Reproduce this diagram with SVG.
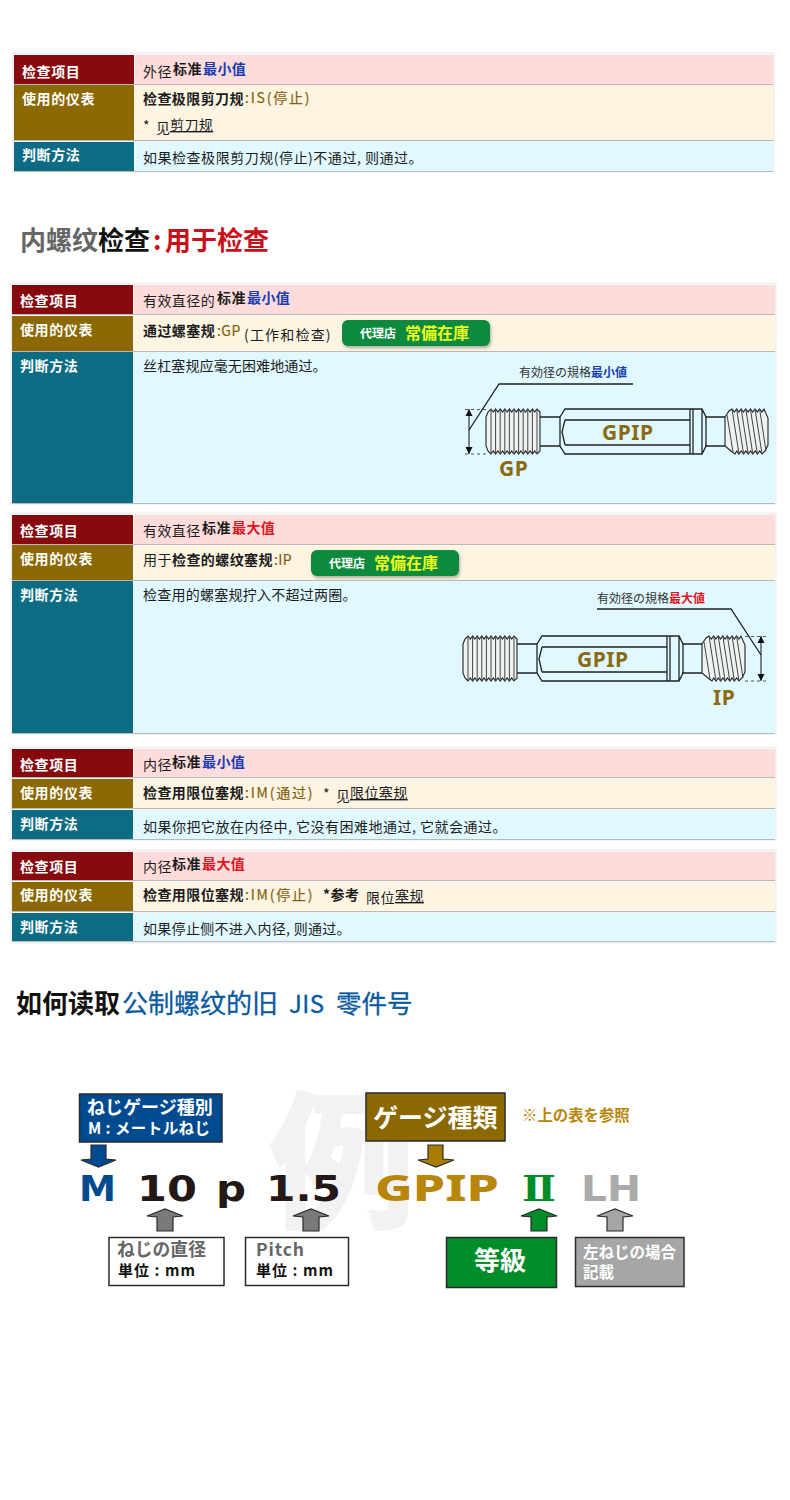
<svg xmlns="http://www.w3.org/2000/svg" xmlns:xlink="http://www.w3.org/1999/xlink" width="790" height="1500" viewBox="0 0 790 1500">
<style>
text{font-family:"Noto Sans CJK SC","Noto Sans",sans-serif;font-size:14px;fill:#1c1c1c;letter-spacing:.42px}
.jp,.jp text{font-family:"Noto Sans CJK JP","Noto Sans",sans-serif;letter-spacing:0}
.b{font-weight:700}
.h{font-weight:700;fill:#fff;letter-spacing:.6px}
.br{fill:#7f6010;stroke:#8b6a14;stroke-width:.2}
.bl{fill:#1a3cb0;font-weight:700}
.rd{fill:#e0161e;font-weight:700}
.u{text-decoration:underline}
.red{fill:#860a0e}.bro{fill:#8b6800}.tea{fill:#0b6c84}
.pk{fill:#ffdcdc}.cr{fill:#fdf5e2}.cy{fill:#e0f8ff}
.frame{fill:#f6f6f6;stroke:#ececec}
.sep{stroke:#b9b9b9;stroke-width:1;fill:none}
.thr{fill:#eef2f3;stroke:#222;stroke-width:1.1}
.thl{stroke:#444;stroke-width:1;fill:none}
.ln{fill:none;stroke:#222;stroke-width:1.3}
.g{font-family:"Noto Sans","DejaVu Sans",sans-serif;font-weight:700;font-size:21px;fill:#8b6a14;letter-spacing:.5px}
.big{font-family:"DejaVu Sans",sans-serif;font-weight:700;font-size:36px;letter-spacing:0}
.big2{font-family:"Noto Sans",sans-serif;font-weight:800;font-size:36px;letter-spacing:0}
.bx{stroke:#2a2a2a;stroke-width:1.5}
.ar{stroke:#2a2a2a;stroke-width:1.2;stroke-linejoin:miter}
.badge{fill:#078a3e}
</style>
<defs>
<filter id="sh" x="-5%" y="-10%" width="110%" height="130%"><feDropShadow dx="1" dy="2" stdDeviation="1.5" flood-color="#000" flood-opacity=".3"/></filter>
<g id="gauge">
<path class="thr" d="M486 417L488 412 491 409 493.3 412 495.6 409 497.9 412 500.2 409 502.5 412 504.8 409 507.1 412 509.4 409 511.7 412 514 409 516.3 412 518.6 409 520.9 412 523.2 409 525.5 412 527.8 409 530.1 412 532.4 409 534.7 412 537 409 540 412V451L537 454 534.7 451 532.4 454 530.1 451 527.8 454 525.5 451 523.2 454 520.9 451 518.6 454 516.3 451 514 454 511.7 451 509.4 454 507.1 451 504.8 454 502.5 451 500.2 454 497.9 451 495.6 454 493.3 451 491 454 488 451 486 446Z"/>
<path class="thl" d="M491 409V454M495.6 409V454M500.2 409V454M504.8 409V454M509.4 409V454M514 409V454M518.6 409V454M523.2 409V454M527.8 409V454M532.4 409V454M537 409V454"/>
<path class="ln" d="M540 417H560M540 446H560M705 417H725M705 446H725"/>
<path class="ln" d="M560 417L565 409H690V454H565L560 446ZM565 420H690M565 445H690M565 420L562 432 565 445M690 409H702L706 417V446L702 454H690M693 409V454M702 409V454"/>
<path class="thr" d="M725 417L729 411 732 409 734.3 412 736.6 409 738.9 412 741.2 409 743.5 412 745.8 409 748.1 412 750.4 409 752.7 412 755 409 757.3 412 759.6 409 761.9 412 764 409 768 418V445L765 451 762 454 759.7 451 757.4 454 755.1 451 752.8 454 750.5 451 748.2 454 745.9 451 743.6 454 741.3 451 739 454 736.7 451 735 454 731 451 725 446Z"/>
<path class="thl" d="M732 409L739 454M736.6 409L743.6 454M741.2 409L748.2 454M745.8 409L752.8 454M750.4 409L757.4 454M755 409L762 454M759.6 409L766 451M727 415L733 452"/>
</g>
</defs>
<rect width="790" height="1500" fill="#fff"/>

<g id="table-1">
<rect class="frame" x="13" y="53" width="761" height="119"/>
<rect class="red" x="14" y="55" width="120" height="29"/><rect class="pk" x="135" y="55" width="638" height="29"/>
<rect class="bro" x="14" y="85" width="120" height="55"/><rect class="cr" x="135" y="85" width="638" height="55"/>
<rect class="tea" x="14" y="142" width="120" height="29"/><rect class="cy" x="135" y="142" width="638" height="29"/>
<path class="sep" d="M14 84.500H773M14 140.500H773M14 171.500H773"/>
<text class="h" x="22" y="77">检查项目</text><text class="h" x="22" y="104">使用的仪表</text><text class="h" x="22" y="160">判断方法</text>
<text x="143" y="77">外径</text><text class="b" x="173" y="74">标准</text><text class="bl" x="203" y="74">最小值</text>
<text class="b" x="143" y="104">检查极限剪刀规</text><text class="br" x="245" y="103" textLength="65">:IS(停止)</text>
<text x="143" y="131">*</text><text x="156" y="133">见</text><text class="u" x="170" y="130">剪刀规</text>
<text x="143" y="163" textLength="280">如果检查极限剪刀规(停止)不通过, 则通过。</text>
</g>

<g id="heading-internal">
<text x="20" y="250" style="font-size:26px;letter-spacing:0;font-weight:700;fill:#666">内螺纹<tspan style="fill:#111">检查</tspan></text>
<text x="153" y="250" style="font-size:26px;letter-spacing:0;font-weight:700;fill:#c8101a">:</text>
<text x="165" y="250" style="font-size:26px;letter-spacing:0;font-weight:700;fill:#c8101a">用于检查</text>
</g>

<g id="table-2">
<rect class="frame" x="11" y="283" width="765" height="221"/>
<rect class="red" x="12" y="285" width="121" height="29"/><rect class="pk" x="134" y="285" width="641" height="29"/>
<rect class="bro" x="12" y="316" width="121" height="35"/><rect class="cr" x="134" y="316" width="641" height="35"/>
<rect class="tea" x="12" y="352" width="121" height="151"/><rect class="cy" x="134" y="352" width="641" height="151"/>
<path class="sep" d="M12 314.500H775M12 351.500H775M12 503.500H775"/>
<text class="h" x="20" y="306">检查项目</text><text class="h" x="20" y="335">使用的仪表</text><text class="h" x="20" y="371">判断方法</text>
<text x="143" y="306">有效直径的</text><text class="b" x="217" y="303">标准</text><text class="bl" x="247" y="303">最小值</text>
<text class="b" x="143" y="336">通过螺塞规</text><text class="br" x="217" y="336">:GP</text><text x="244" y="340" textLength="87">(工作和检查)</text>
<text x="143" y="371" textLength="184">丝杠塞规应毫无困难地通过。</text>
</g>
<g id="badge-1" class="jp">
<rect class="badge" x="342" y="320" width="148" height="26" rx="6" filter="url(#sh)"/>
<text class="b" x="360" y="338" style="fill:#fff;font-size:12px">代理店</text>
<text class="b" x="405" y="339" style="fill:#eaff1a;font-size:16px">常備在庫</text>
</g>
<g id="gauge-gp">
<use href="#gauge" xlink:href="#gauge"/>
<text class="jp" x="519" y="377" style="font-size:12px;fill:#333">有効径の規格<tspan class="bl">最小値</tspan></text>
<path class="ln" d="M633 384H499L469 430"/>
<path d="M465 409.500H486M465 454H486" stroke="#555" stroke-dasharray="3 3" fill="none"/>
<path d="M469 409V454" stroke="#111" fill="none"/>
<path d="M469 409L465.500 416H472.500ZM469 454L465.500 447H472.500Z" fill="#111"/>
<text class="g" x="602" y="440">GPIP</text>
<text class="g" x="499" y="476">GP</text>
</g>

<g id="table-3">
<rect class="frame" x="11" y="513" width="765" height="221"/>
<rect class="red" x="12" y="515" width="121" height="29"/><rect class="pk" x="134" y="515" width="641" height="29"/>
<rect class="bro" x="12" y="545" width="121" height="35"/><rect class="cr" x="134" y="545" width="641" height="35"/>
<rect class="tea" x="12" y="581" width="121" height="152"/><rect class="cy" x="134" y="581" width="641" height="152"/>
<path class="sep" d="M12 544.500H775M12 580.500H775M12 733.500H775"/>
<text class="h" x="20" y="536">检查项目</text><text class="h" x="20" y="564">使用的仪表</text><text class="h" x="20" y="600">判断方法</text>
<text x="143" y="536">有效直径</text><text class="b" x="202" y="533">标准</text><text class="rd" x="232" y="533">最大值</text>
<text x="143" y="565">用于</text><text class="b" x="172" y="565">检查的螺纹塞规</text><text class="br" x="274" y="565">:IP</text>
<text x="143" y="600" textLength="214">检查用的螺塞规拧入不超过两圈。</text>
</g>
<g id="badge-2" class="jp">
<rect class="badge" x="311" y="550" width="148" height="26" rx="6" filter="url(#sh)"/>
<text class="b" x="329" y="568" style="fill:#fff;font-size:12px">代理店</text>
<text class="b" x="374" y="569" style="fill:#eaff1a;font-size:16px">常備在庫</text>
</g>
<g id="gauge-ip">
<use href="#gauge" xlink:href="#gauge" transform="translate(-23 227)"/>
<text class="jp" x="597" y="603" style="font-size:12px;fill:#333">有効径の規格<tspan class="rd">最大値</tspan></text>
<path class="ln" d="M597 609H731L761 655"/>
<path d="M745 636.500H768M745 681H768" stroke="#555" stroke-dasharray="3 3" fill="none"/>
<path d="M761 636V681" stroke="#111" fill="none"/>
<path d="M761 636L757.500 643H764.500ZM761 681L757.500 674H764.500Z" fill="#111"/>
<text class="g" x="577" y="667">GPIP</text>
<text class="g" x="713" y="705">IP</text>
</g>

<g id="table-4">
<rect class="frame" x="11" y="747" width="765" height="93"/>
<rect class="red" x="12" y="749" width="121" height="28"/><rect class="pk" x="134" y="749" width="641" height="28"/>
<rect class="bro" x="12" y="779" width="121" height="29"/><rect class="cr" x="134" y="779" width="641" height="29"/>
<rect class="tea" x="12" y="810" width="121" height="29"/><rect class="cy" x="134" y="810" width="641" height="29"/>
<path class="sep" d="M12 777.500H775M12 808.500H775M12 839.500H775"/>
<text class="h" x="20" y="770">检查项目</text><text class="h" x="20" y="798">使用的仪表</text><text class="h" x="20" y="829">判断方法</text>
<text x="143" y="770">内径</text><text class="b" x="172" y="767">标准</text><text class="bl" x="202" y="767">最小值</text>
<text class="b" x="143" y="798">检查用限位塞规</text><text class="br" x="245" y="798" textLength="68">:IM(通过)</text>
<text x="323" y="799">*</text><text x="336" y="801">见</text><text class="u" x="350" y="798">限位塞规</text>
<text x="143" y="832" textLength="364">如果你把它放在内径中, 它没有困难地通过, 它就会通过。</text>
</g>

<g id="table-5">
<rect class="frame" x="11" y="850" width="765" height="93"/>
<rect class="red" x="12" y="852" width="121" height="28"/><rect class="pk" x="134" y="852" width="641" height="28"/>
<rect class="bro" x="12" y="882" width="121" height="29"/><rect class="cr" x="134" y="882" width="641" height="29"/>
<rect class="tea" x="12" y="913" width="121" height="28"/><rect class="cy" x="134" y="913" width="641" height="28"/>
<path class="sep" d="M12 880.500H775M12 911.500H775M12 941.500H775"/>
<text class="h" x="20" y="872">检查项目</text><text class="h" x="20" y="900">使用的仪表</text><text class="h" x="20" y="932">判断方法</text>
<text x="143" y="872">内径</text><text class="b" x="172" y="869">标准</text><text class="rd" x="202" y="869">最大值</text>
<text class="b" x="143" y="900">检查用限位塞规</text><text class="br" x="245" y="900" textLength="68">:IM(停止)</text>
<text class="b" x="323" y="900">*参考</text><text x="366" y="903">限位</text><text class="u" x="395" y="901">塞规</text>
<text x="143" y="934" textLength="208">如果停止侧不进入内径, 则通过。</text>
</g>

<g id="heading-jis">
<text x="16" y="1013" style="font-size:26px;letter-spacing:0;font-weight:700;fill:#111">如何读取</text>
<text x="122" y="1013" style="font-size:26px;letter-spacing:0;fill:#0a5aa0;stroke:#0a5aa0;stroke-width:.3">公制螺纹的旧</text>
<text x="289" y="1013" style="font-size:24px;letter-spacing:.5px;fill:#0a5aa0;stroke:#0a5aa0;stroke-width:.3">JIS</text>
<text x="336" y="1013" style="font-size:25.500px;letter-spacing:0;fill:#0a5aa0;stroke:#0a5aa0;stroke-width:.3">零件号</text>
</g>

<g id="watermark"><text class="jp" x="268" y="1216" style="font-size:148px;font-weight:900;fill:#f2f2f2">例</text></g>

<g id="part-number">
<text class="big" x="79" y="1201" textLength="37" lengthAdjust="spacingAndGlyphs" style="fill:#004a8f">M</text>
<text class="big" x="137" y="1201" textLength="60" lengthAdjust="spacingAndGlyphs" style="fill:#231815">10</text>
<text class="big" x="216" y="1201" textLength="30" lengthAdjust="spacingAndGlyphs" style="fill:#231815">p</text>
<text class="big" x="266" y="1201" textLength="75" lengthAdjust="spacingAndGlyphs" style="fill:#231815">1.5</text>
<text class="big2" x="375" y="1201" textLength="124" lengthAdjust="spacingAndGlyphs" style="fill:#b8860b">GPIP</text>
<text class="big" x="522" y="1201" textLength="34" lengthAdjust="spacingAndGlyphs" style="fill:#008c28;font-family:'DejaVu Serif',serif">Ⅱ</text>
<text class="big" x="581" y="1201" textLength="60" lengthAdjust="spacingAndGlyphs" style="fill:#aaa">LH</text>
</g>

<g id="connectors">
<polygon class="ar" fill="#004a8f" points="91,1145 106,1145 106,1159 116,1160 98.500,1167 81,1160 91,1159"/>
<polygon class="ar" fill="#a87c00" points="428,1145 443,1145 443,1159 454,1160 436,1167 418,1160 428,1159"/>
<polygon class="ar" fill="#7a7a7a" points="157,1231 173,1231 173,1217 183,1216 165,1209 147,1216 157,1217"/>
<polygon class="ar" fill="#7a7a7a" points="303,1231 319,1231 319,1217 329,1216 311,1209 293,1216 303,1217"/>
<polygon class="ar" fill="#008c28" points="531,1231 547,1231 547,1217 557,1216 539,1209 521,1216 531,1217"/>
<polygon class="ar" fill="#a6a6a6" points="607,1231 623,1231 623,1217 633,1216 615,1209 597,1216 607,1217"/>
</g>

<g id="box-type" class="jp">
<rect class="bx" x="79.500" y="1094" width="142.500" height="48" fill="#004a8f"/>
<text class="b" x="87" y="1114" style="fill:#fff;font-size:18px">ねじゲージ種別</text>
<text class="b" x="88" y="1134" textLength="122" style="fill:#fff;font-size:15.500px">M : メートルねじ</text>
</g>
<g id="box-gauge" class="jp">
<rect class="bx" x="366" y="1093" width="139" height="48" fill="#8b6800"/>
<text class="b" x="373" y="1127" style="fill:#fff;font-size:25px">ゲージ種類</text>
</g>
<g id="note" class="jp"><text class="b" x="522" y="1121" style="fill:#b8860b;font-size:15.400px">※上の表を参照</text></g>
<g id="box-diameter" class="jp">
<rect class="bx" x="109" y="1237.500" width="115" height="48" fill="#fff"/>
<text class="b" x="117" y="1256" style="fill:#666;font-size:17.800px">ねじの直径</text>
<text class="b" x="118" y="1276" textLength="77" style="fill:#111;font-size:15px">単位 : mm</text>
</g>
<g id="box-pitch" class="jp">
<rect class="bx" x="245.500" y="1237.500" width="103" height="48" fill="#fff"/>
<text class="b" x="256" y="1256" textLength="48" style="fill:#666;font-size:17.500px">Pitch</text>
<text class="b" x="256" y="1276" textLength="77" style="fill:#111;font-size:15px">単位 : mm</text>
</g>
<g id="box-grade" class="jp">
<rect class="bx" x="446.500" y="1237.500" width="110" height="50" fill="#008c28"/>
<text class="b" x="474" y="1270" style="fill:#fff;font-size:26px">等級</text>
</g>
<g id="box-lh" class="jp">
<rect class="bx" x="575.500" y="1237.500" width="108.500" height="49" fill="#a6a6a6"/>
<text class="b" x="583" y="1258" style="fill:#fff;font-size:15.500px">左ねじの場合</text>
<text class="b" x="583" y="1278" style="fill:#fff;font-size:15.500px">記載</text>
</g>
</svg>
